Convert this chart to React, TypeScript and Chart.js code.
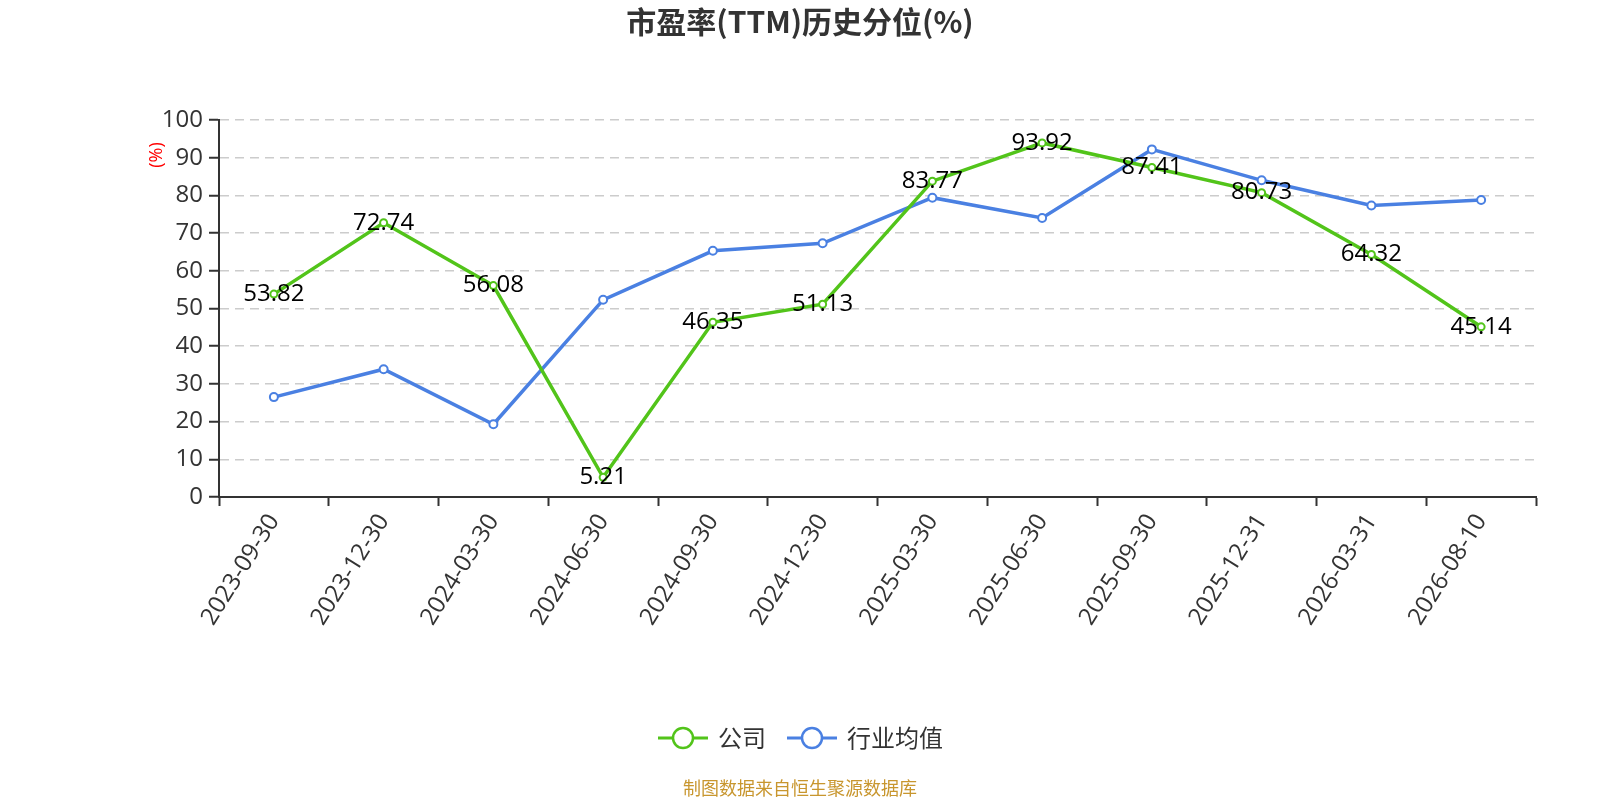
import React, { useEffect, useRef } from 'react';
import { Chart, registerables } from 'chart.js';

Chart.register(...registerables);

const LATIN = "'Open Sans', 'Noto Sans CJK SC', sans-serif";
const CJK = "'Noto Sans CJK SC', 'Open Sans', sans-serif";

const dates = [
  '2023-09-30', '2023-12-30', '2024-03-30', '2024-06-30', '2024-09-30', '2024-12-30',
  '2025-03-30', '2025-06-30', '2025-09-30', '2025-12-31', '2026-03-31', '2026-08-10',
];
const companyPct = [53.82, 72.74, 56.08, 5.21, 46.35, 51.13, 83.77, 93.92, 87.41, 80.73, 64.32, 45.14];
const industryAvgPct = [26.5, 33.9, 19.3, 52.3, 65.3, 67.3, 79.4, 74.0, 92.2, 84.0, 77.3, 78.8];

const GREEN = '#52c41a';
const BLUE = '#4a80e2';

const decorPlugin = {
  id: 'decor',
  afterDatasetsDraw(chart: any) {
    const ctx = chart.ctx;
    // value labels on the company line
    const meta = chart.getDatasetMeta(0);
    ctx.save();
    ctx.font = `24px ${LATIN}`;
    ctx.fillStyle = '#000';
    ctx.textAlign = 'center';
    ctx.textBaseline = 'middle';
    meta.data.forEach((pt: any, i: number) => {
      ctx.fillText(companyPct[i].toFixed(2), pt.x, pt.y);
    });
    ctx.restore();
  },
  afterDraw(chart: any) {
    const ctx = chart.ctx;
    const cx = 800;
    ctx.save();
    ctx.textAlign = 'center';
    ctx.textBaseline = 'middle';

    ctx.font = `bold 30px ${CJK}`;
    ctx.fillStyle = '#333';
    ctx.fillText('市盈率(TTM)历史分位(%)', cx, 22);

    // unit label of y axis
    ctx.save();
    ctx.translate(157, 155);
    ctx.rotate(-Math.PI / 2);
    ctx.font = `18px ${LATIN}`;
    ctx.fillStyle = '#ff0000';
    ctx.fillText('(%)', 0, 0);
    ctx.restore();

    // legend
    const items = [
      { label: '公司', color: GREEN, x: 658 },
      { label: '行业均值', color: BLUE, x: 787 },
    ];
    const ly = 738;
    items.forEach((it) => {
      ctx.strokeStyle = it.color;
      ctx.lineWidth = 3;
      ctx.beginPath();
      ctx.moveTo(it.x, ly);
      ctx.lineTo(it.x + 50, ly);
      ctx.stroke();
      ctx.beginPath();
      ctx.arc(it.x + 25, ly, 10, 0, Math.PI * 2);
      ctx.fillStyle = '#fff';
      ctx.fill();
      ctx.lineWidth = 2.5;
      ctx.stroke();
      ctx.font = `24px ${CJK}`;
      ctx.fillStyle = '#333';
      ctx.textAlign = 'left';
      ctx.fillText(it.label, it.x + 60, ly);
    });

    ctx.font = `18px ${CJK}`;
    ctx.fillStyle = '#c8962e';
    ctx.textAlign = 'center';
    ctx.fillText('制图数据来自恒生聚源数据库', cx, 788);
    ctx.restore();
  },
};

export default function App() {
  const canvasRef = useRef<HTMLCanvasElement | null>(null);
  useEffect(() => {
    const ctx = canvasRef.current!.getContext('2d');
    const chart = new Chart(ctx!, {
      type: 'line',
      data: {
        labels: dates,
        datasets: [
          {
            label: '公司', data: companyPct, borderColor: GREEN, backgroundColor: '#fff',
            borderWidth: 3.5, pointRadius: 3.5, pointBorderWidth: 2, pointBackgroundColor: '#fff',
            pointBorderColor: GREEN, tension: 0,
          },
          {
            label: '行业均值', data: industryAvgPct, borderColor: BLUE, backgroundColor: '#fff',
            borderWidth: 3.5, pointRadius: 4, pointBorderWidth: 2, pointBackgroundColor: '#fff',
            pointBorderColor: BLUE, tension: 0,
          },
        ],
      },
      options: {
        animation: false,
        responsive: false,
        devicePixelRatio: 1,
        layout: { padding: { top: 120, right: 64, left: 0, bottom: 0 } },
        plugins: { legend: { display: false }, title: { display: false }, tooltip: { enabled: false } },
        scales: {
          x: {
            offset: true,
            grid: { offset: true, drawOnChartArea: false, drawTicks: true, tickLength: 9, tickColor: '#333', tickWidth: 2 },
            border: { color: '#333', width: 2 },
            ticks: { color: '#333', font: { size: 24, family: LATIN }, minRotation: 58, maxRotation: 58, padding: 3, autoSkip: false },
            afterFit: (s: any) => { s.height = 303; },
          },
          y: {
            min: 0, max: 100,
            grid: { color: '#cccccc', lineWidth: 1.5, tickColor: '#333', tickLength: 10, tickWidth: 2 },
            border: { color: '#333', width: 2, dash: [9, 6] },
            ticks: { stepSize: 10, color: '#333', font: { size: 24, family: LATIN }, padding: 6 },
            afterFit: (s: any) => { s.width = 219; },
          },
        },
      },
      plugins: [decorPlugin],
    });
    return () => { chart.destroy(); };
  }, []);
  return (
    <div style={{ position: 'absolute', left: 0, top: 0, width: 1600, height: 800, background: '#fff' }}>
      <canvas ref={canvasRef} width={1600} height={800}></canvas>
    </div>
  );
}
